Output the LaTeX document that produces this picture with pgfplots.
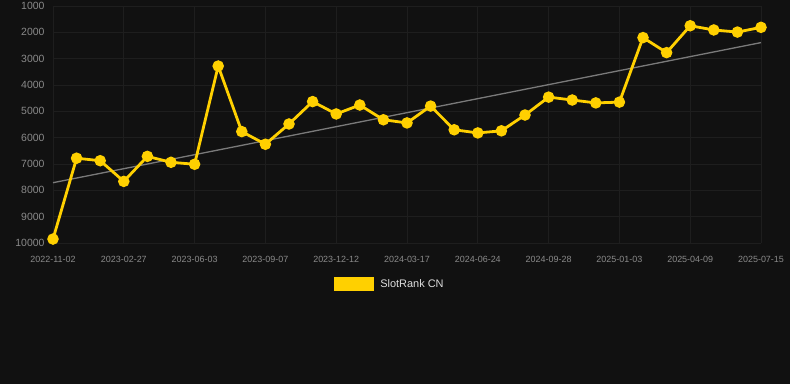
\documentclass[border=0pt]{standalone}
\usepackage{fontspec}
\setmainfont{Liberation Sans}
\usepackage{pgfplots}
\pgfplotsset{compat=1.18}
\definecolor{bg}{HTML}{111111}
\definecolor{gold}{HTML}{FFD000}
\definecolor{gridc}{HTML}{1E1E1E}
\definecolor{tickc}{HTML}{8A8A8A}
\definecolor{trend}{HTML}{7A7A7A}
\definecolor{legc}{HTML}{DDDDDD}
\begin{document}
\begin{tikzpicture}[x=1bp,y=1bp]
\fill[bg] (0,0) rectangle (790,384);
\useasboundingbox (0,0) rectangle (790,384);
\begin{axis}[
  at={(407bp,259.5bp)}, anchor=center,
  width=708bp, height=237bp, scale only axis,
  xmin=0, xmax=30, ymin=1000, ymax=10000, y dir=reverse,
  scaled y ticks=false,
  axis line style={draw=none},
  tick style={draw=none},
  xtick={0,3,...,30},
  xticklabels={2022-11-02,2023-02-27,2023-06-03,2023-09-07,2023-12-12,2024-03-17,2024-06-24,2024-09-28,2025-01-03,2025-04-09,2025-07-15},
  ytick={1000,2000,...,10000},
  /pgf/number format/1000 sep={},
  /pgf/number format/assume math mode=true,
  yticklabel style={font=\fontsize{10.5}{12}\selectfont, text=tickc},
  xticklabel style={font=\fontsize{9}{11}\selectfont, text=tickc},
  xtick pos=bottom, ytick pos=left,
  xticklabel shift=10bp, yticklabel shift=5bp,
  grid=major,
  major grid style={gridc, line width=0.7bp},
  legend style={at={(0.474,-0.173)}, anchor=center, draw=none, fill=none,
    text=legc, font=\fontsize{11}{13}\selectfont, inner sep=0pt,
    nodes={inner sep=0pt, outer sep=0pt}},
  legend image code/.code={\fill[gold] (0bp,-6bp) rectangle (38bp,6bp);},
  clip=false,
]
\addplot[trend, line width=1.3bp, forget plot] coordinates {(0,7710) (30,2390)};
\addplot[gold, line width=2.8bp, mark=*, mark size=4.3bp, mark options={fill=gold, draw=gold}] coordinates {
(0,9850) (1,6780) (2,6875) (3,7660) (4,6710) (5,6935) (6,7010) (7,3280)
(8,5770) (9,6250) (10,5480) (11,4630) (12,5100) (13,4760) (14,5320) (15,5440)
(16,4800) (17,5700) (18,5820) (19,5740) (20,5140) (21,4460) (22,4570) (23,4680)
(24,4650) (25,2200) (26,2770) (27,1750) (28,1910) (29,1990) (30,1810)
};
\addlegendentry{\hspace{6bp}SlotRank CN}
\end{axis}
\end{tikzpicture}
\end{document}
